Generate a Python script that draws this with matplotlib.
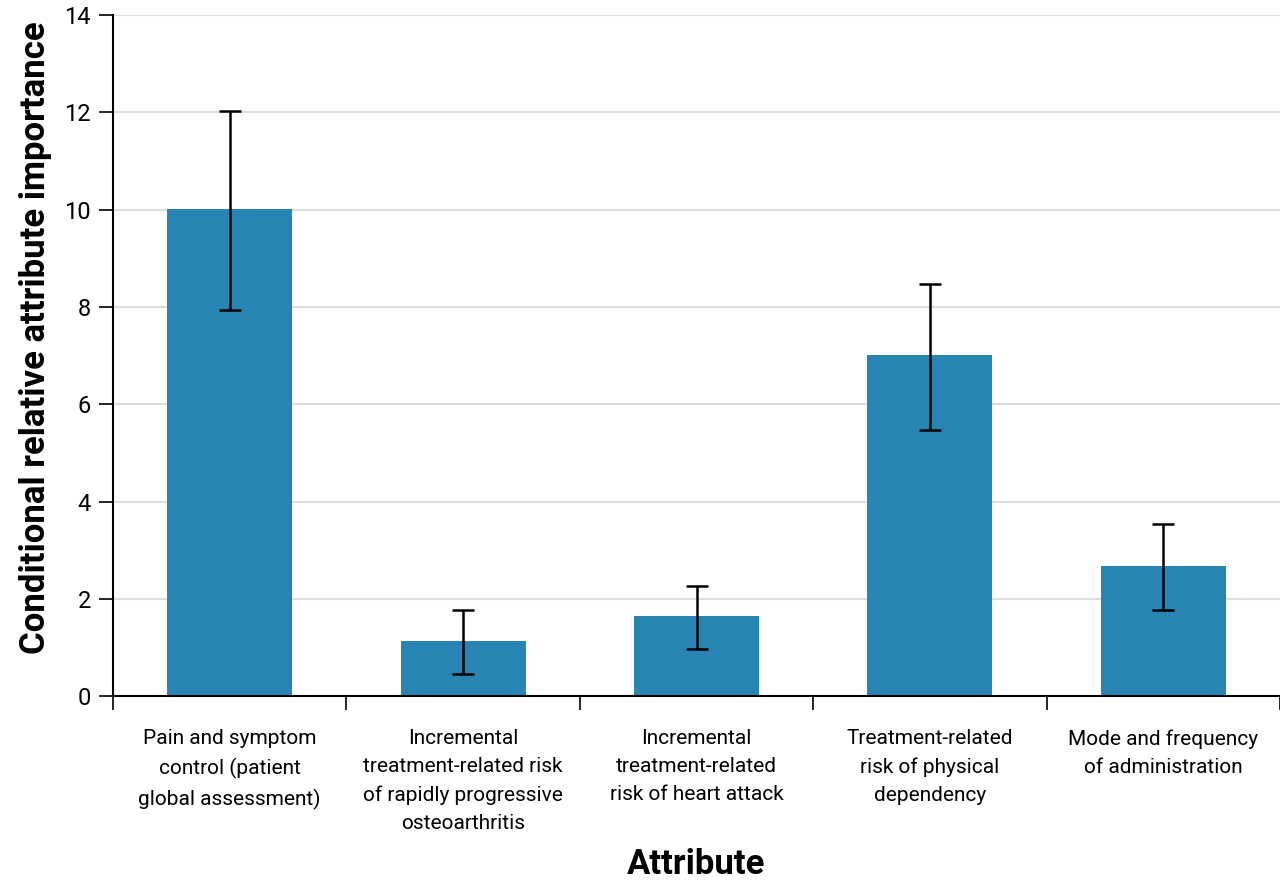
import matplotlib.pyplot as plt
import numpy as np

categories = [
    "Pain and symptom\ncontrol (patient\nglobal assessment)",
    "Incremental\ntreatment-related risk\nof rapidly progressive\nosteoarthritis",
    "Incremental\ntreatment-related\nrisk of heart attack",
    "Treatment-related\nrisk of physical\ndependency",
    "Mode and frequency\nof administration",
]
importance = [10.01, 1.13, 1.65, 7.01, 2.68]
ci_low = [7.94, 0.45, 0.97, 5.47, 1.77]
ci_high = [12.03, 1.76, 2.26, 8.47, 3.54]

plt.rcParams["font.family"] = ["Roboto", "DejaVu Sans"]

fig = plt.figure(figsize=(12.8, 8.89), dpi=100)
ax = fig.add_axes([0.0883, 0.217, 0.9117, 0.766])

x = np.arange(len(categories))
yerr = [np.array(importance) - np.array(ci_low), np.array(ci_high) - np.array(importance)]
ax.bar(x, importance, width=0.535, color="#2884b3", zorder=2)
ax.errorbar(x, importance, yerr=yerr, fmt="none", ecolor="black",
            elinewidth=1.8, capsize=8, capthick=1.8, zorder=3)

ax.set_xlim(-0.5, 4.5)
ax.set_ylim(0, 14)
ax.set_yticks(range(0, 15, 2))
ax.yaxis.grid(True, color="#dddddd", linewidth=1.5, zorder=0)
ax.set_axisbelow(True)

# boundaries get the tick marks, centres get the labels
ax.set_xticks(np.arange(-0.5, 5, 1))
ax.set_xticklabels([])
ax.set_xticks(x, minor=True)
ax.set_xticklabels(categories, minor=True, fontsize=15, linespacing=1.6)
ax.tick_params(axis="x", which="minor", length=0, pad=24)
ax.tick_params(axis="x", which="major", length=10, width=1.2)
ax.tick_params(axis="y", length=10, width=1.2, labelsize=17, pad=6)

for side in ["top", "right"]:
    ax.spines[side].set_visible(False)
for side in ["left", "bottom"]:
    ax.spines[side].set_linewidth(1.5)

ax.set_ylabel("Conditional relative attribute importance", fontsize=25,
              fontweight="bold")
ax.yaxis.set_label_coords(-0.052, 0.527)
ax.set_xlabel("Attribute", fontsize=25, fontweight="bold", va="center")
ax.xaxis.set_label_coords(0.5, -0.248)

fig.savefig("out.png", dpi=100)
